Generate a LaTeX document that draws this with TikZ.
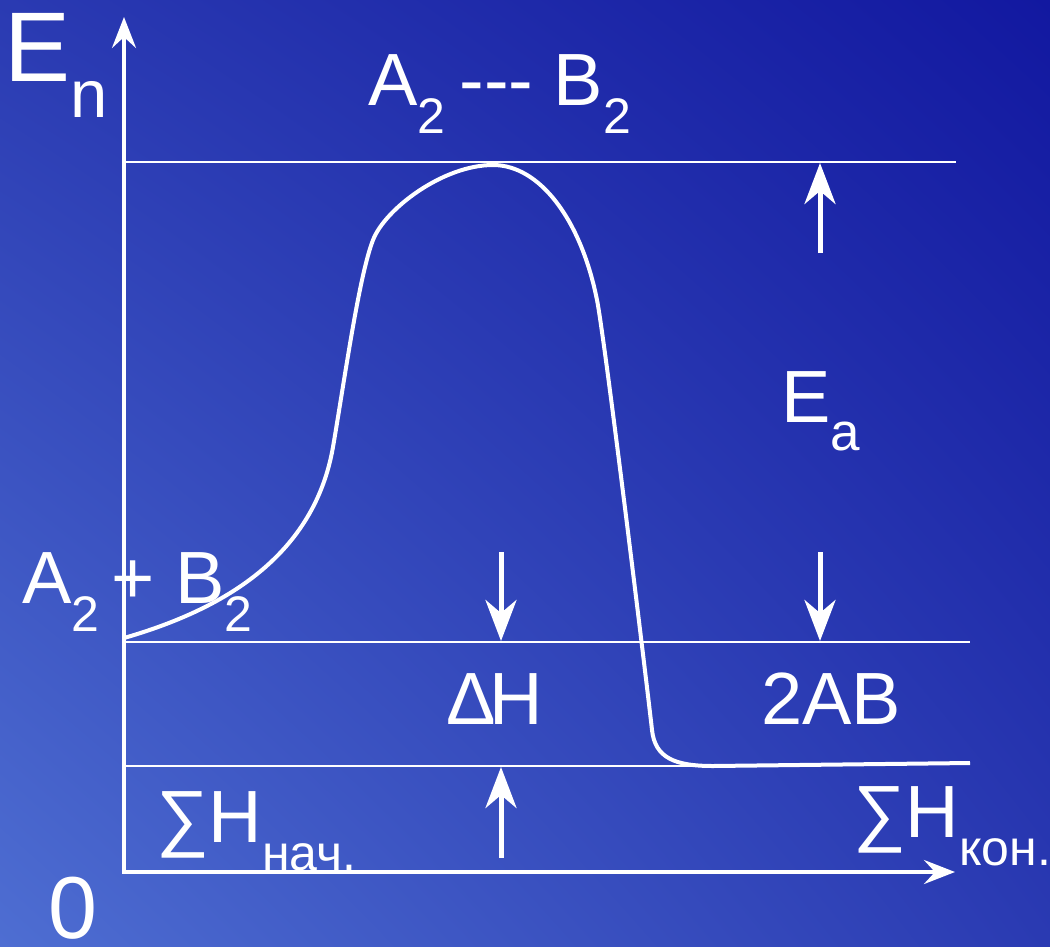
\documentclass[tikz,border=0pt]{standalone}
\usepackage{fontspec}
\setmainfont{Liberation Sans}
\usetikzlibrary{arrows.meta, shadings}
\definecolor{bgdark}{RGB}{18,24,160}
\definecolor{bgmid}{RGB}{42,58,178}
\definecolor{bglight}{RGB}{78,110,210}
\newcommand{\lo}[1]{\raisebox{-28pt}{\fontsize{50}{50}\selectfont #1}}

\begin{document}
\begin{tikzpicture}[x=1pt, y=-1pt,
  lbl/.style={anchor=base west, inner sep=0pt, text=white, font=\fontsize{74}{80}\selectfont},
  big/.style={lbl, font=\fontsize{99}{100}\selectfont},
  axis/.style={white, line width=4pt, {Stealth[length=31pt, width=24pt, inset=11pt]}-{Stealth[length=31pt, width=24pt, inset=11pt]}},
  level/.style={white, line width=2.5pt},
  arr/.style={white, line width=5pt, -{Stealth[length=41pt, width=31pt, inset=13pt]}},
  curve/.style={white, line width=4pt, line join=round}
]
\shade[upper left=bgmid, upper right=bgdark, lower left=bglight, lower right=bgmid] (0,0) rectangle (1050,946);
\useasboundingbox (0,0) rectangle (1050,946);

\coordinate (o) at (124,872);
\coordinate (ytip) at (124,17);
\coordinate (xtip) at (955,872);
\coordinate (top0) at (124,162);
\coordinate (top1) at (956,162);
\coordinate (mid0) at (124,642);
\coordinate (mid1) at (970,642);
\coordinate (low0) at (124,766);
\coordinate (low1) at (713,766);
\coordinate (ea-tail) at (820,253);
\coordinate (ea-head) at (820,163);
\coordinate (ea-from) at (820,552);
\coordinate (ea-to) at (820,641);
\coordinate (dh-from) at (501,552);
\coordinate (dh-to) at (501,641);
\coordinate (dh-tail) at (501,858);
\coordinate (dh-head) at (501,767);

\draw[axis] (ytip) -- (o) -- (xtip);
\draw[level] (top0) -- (top1);
\draw[level] (mid0) -- (mid1);
\draw[level] (low0) -- (low1);

\draw[curve] (124,638) .. controls (214,612) and (313,562) .. (333,447)
  .. controls (345,377) and (359,276) .. (373,240)
  .. controls (385,209) and (443,165) .. (493,165)
  .. controls (540,165) and (581,220) .. (597,300)
  .. controls (605,340) and (647,685) .. (652,730)
  .. controls (655,758) and (675,766) .. (713,766)
  -- (970,763);

\draw[arr] (ea-tail) -- (ea-head);
\draw[arr] (ea-from) -- (ea-to);
\draw[arr] (dh-from) -- (dh-to);
\draw[arr] (dh-tail) -- (dh-head);

\node[big] (en) at (4,81) {E\raisebox{-36pt}{\fontsize{67}{67}\selectfont n}};
\node[lbl] (ts) at (368,105) {A\lo{2}\hspace{14pt}-{}-{}- B\lo{2}};
\node[lbl] (ea) at (781,422) {E\raisebox{-28pt}{\fontsize{53}{53}\selectfont a}};
\node[lbl] (react) at (22,603) {A\lo{2}\hspace{12pt}+ B\lo{2}};
\node[lbl] (dh) at (446,724) {Δ\kern-6pt H};
\node[lbl] (prod) at (761,724) {2AB};
\node[lbl] (hi) at (156,842) {∑H\lo{нач.}};
\node[lbl] (hf) at (853,837) {∑H\lo{кон.}};
\node[lbl, font=\fontsize{88}{88}\selectfont] (zero) at (48,938) {0};
\end{tikzpicture}
\end{document}
